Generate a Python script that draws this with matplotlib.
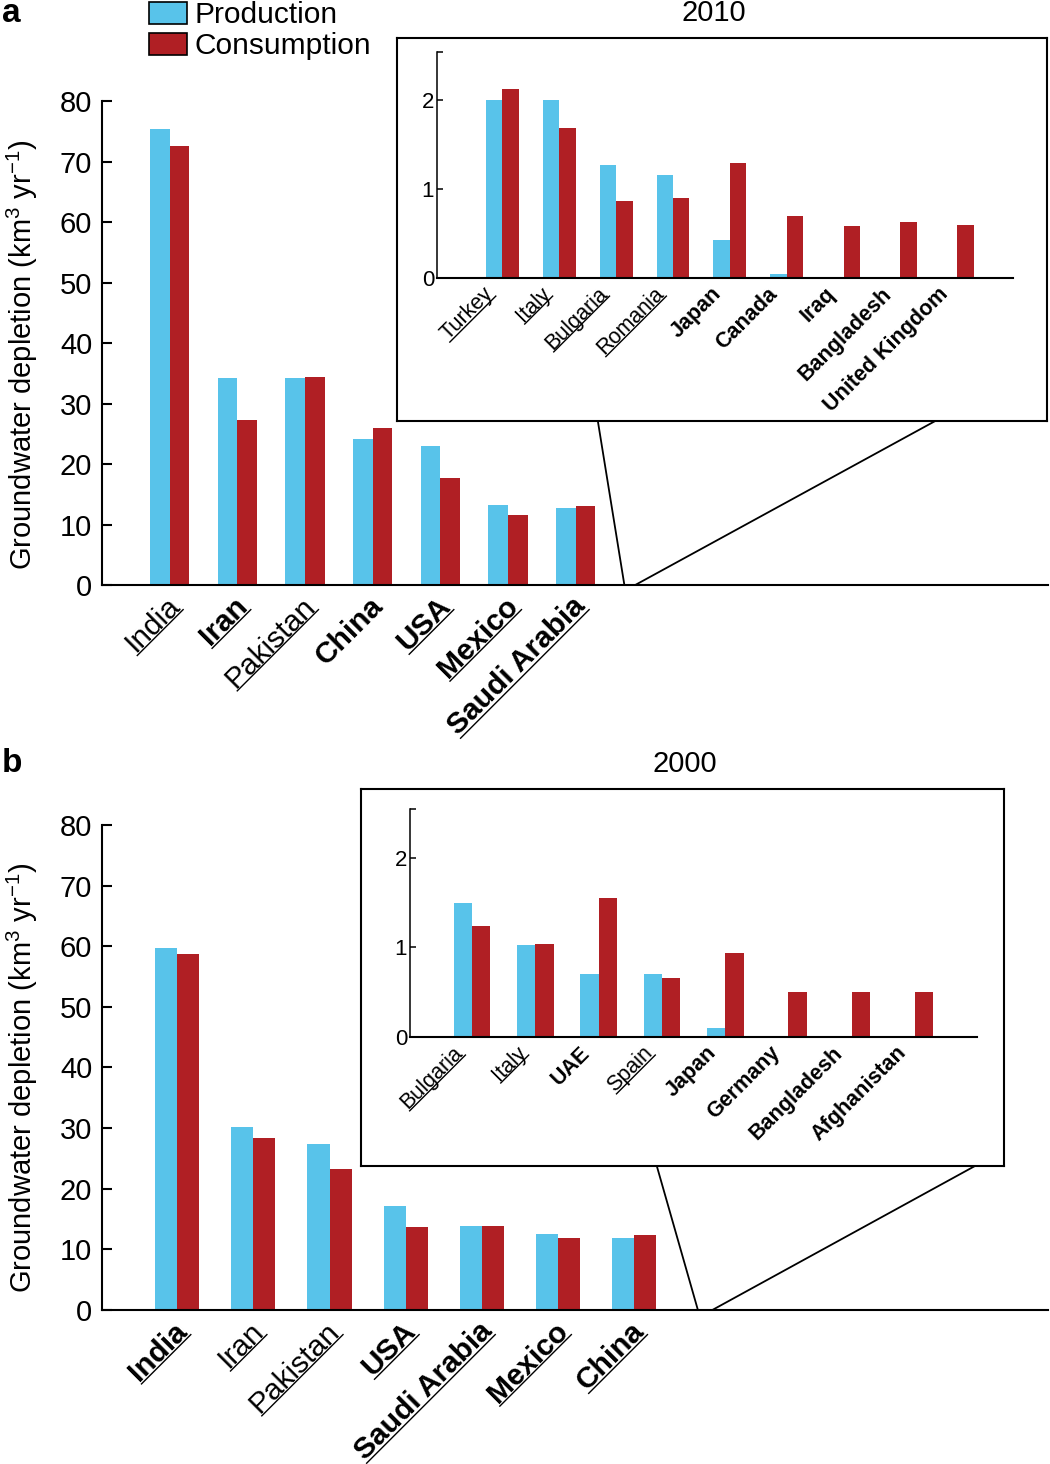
import numpy as np
import matplotlib
matplotlib.use('Agg')
import matplotlib.pyplot as plt
from matplotlib.patches import Patch, ConnectionPatch
from matplotlib.lines import Line2D
from matplotlib import transforms

# 2010, main countries
countries_2010 = ['India', 'Iran', 'Pakistan', 'China', 'USA', 'Mexico', 'Saudi Arabia']
prod_2010 = [75.3, 34.3, 34.2, 24.1, 22.9, 13.2, 12.8]
cons_2010 = [72.6, 27.2, 34.4, 26.0, 17.7, 11.6, 13.1]
bold_2010 = [False, True, False, True, True, True, True]
under_2010 = [True, True, True, False, True, True, True]

# 2010, inset
inset_countries_2010 = ['Turkey', 'Italy', 'Bulgaria', 'Romania', 'Japan', 'Canada',
                        'Iraq', 'Bangladesh', 'United Kingdom']
inset_prod_2010 = [2.01, 2.0, 1.27, 1.16, 0.42, 0.04, 0.0, 0.005, 0.005]
inset_cons_2010 = [2.13, 1.69, 0.86, 0.90, 1.29, 0.70, 0.585, 0.63, 0.60]
inset_bold_2010 = [False, False, False, False, True, True, True, True, True]
inset_under_2010 = [True, True, True, True, False, False, False, False, False]

# 2000, main countries
countries_2000 = ['India', 'Iran', 'Pakistan', 'USA', 'Saudi Arabia', 'Mexico', 'China']
prod_2000 = [59.7, 30.2, 27.3, 17.1, 13.8, 12.6, 11.85]
cons_2000 = [58.7, 28.3, 23.2, 13.7, 13.9, 11.8, 12.35]
bold_2000 = [True, False, False, True, True, True, True]
under_2000 = [True, True, True, True, True, True, True]

# 2000, inset
inset_countries_2000 = ['Bulgaria', 'Italy', 'UAE', 'Spain', 'Japan', 'Germany',
                        'Bangladesh', 'Afghanistan']
inset_prod_2000 = [1.50, 1.03, 0.70, 0.70, 0.10, 0.01, 0.0, 0.0]
inset_cons_2000 = [1.24, 1.04, 1.56, 0.66, 0.94, 0.50, 0.50, 0.50]
inset_bold_2000 = [False, False, True, False, True, True, True, True]
inset_under_2000 = [True, True, False, True, False, False, False, False]

BLUE = '#58C3EA'
RED = '#B01F24'

plt.rcParams['font.family'] = ['Liberation Sans', 'DejaVu Sans']
plt.rcParams['mathtext.fontset'] = 'custom'
plt.rcParams['mathtext.rm'] = 'Liberation Sans'
plt.rcParams['mathtext.it'] = 'Liberation Sans:italic'
plt.rcParams['mathtext.bf'] = 'Liberation Sans:bold'

fig = plt.figure(figsize=(10.5, 14.64), dpi=100)
to_underline = []


def bars(ax, prod, cons, width=0.29):
    x = np.arange(len(prod))
    ax.bar(x - width / 2, prod, width, color=BLUE, linewidth=0)
    ax.bar(x + width / 2, cons, width, color=RED, linewidth=0)
    return x


def labels(ax, x, names, bold, under, size, dx=0, dy=-5):
    tr = transforms.offset_copy(ax.get_xaxis_transform(), fig=fig, x=dx, y=dy, units='points')
    for xi, name, b, u in zip(x, names, bold, under):
        t = ax.text(xi, 0, name, transform=tr, rotation=45, rotation_mode='anchor',
                    ha='right', va='top', fontsize=size,
                    fontweight='bold' if b else 'normal')
        if u:
            to_underline.append(t)


def draw_underlines(renderer):
    for t in to_underline:
        prop = t.get_fontproperties()
        w, h, d = renderer.get_text_width_height_descent(t.get_text(), prop, ismath=False)
        _, lh, ld = renderer.get_text_width_height_descent('lp', prop, ismath=False)
        h, d = max(h, lh), max(d, ld)
        x0, y0 = t.get_transform().transform(t.get_position())
        a = np.deg2rad(t.get_rotation())
        ux, uy = np.cos(a), np.sin(a)
        vx, vy = -uy, ux
        off = -(h - d) - 0.1 * prop.get_size_in_points() * fig.dpi / 72
        xs = [x0 - w * ux + off * vx, x0 + off * vx]
        ys = [y0 - w * uy + off * vy, y0 + off * vy]
        pts = fig.transFigure.inverted().transform(np.column_stack([xs, ys]))
        fig.add_artist(Line2D(pts[:, 0], pts[:, 1], transform=fig.transFigure,
                              color='black', lw=1.0))


def main_panel(rect, xlim, names, prod, cons, bold, under, ylab_y):
    ax = fig.add_axes(rect)
    x = bars(ax, prod, cons)
    ax.set_xlim(*xlim)
    ax.set_ylim(0, 80)
    ax.set_yticks(range(0, 81, 10))
    ax.set_xticks([])
    ax.spines['top'].set_visible(False)
    ax.spines['right'].set_visible(False)
    ax.spines['left'].set_linewidth(1.5)
    ax.spines['bottom'].set_linewidth(1.5)
    ax.tick_params(axis='y', direction='in', length=7, width=1.5, labelsize=21, pad=7)
    ax.set_ylabel('Groundwater depletion (km$^3$ yr$^{-1}$)', fontsize=21)
    ax.yaxis.set_label_coords(-0.066, ylab_y)
    labels(ax, x, names, bold, under, 21.5, dx=-3, dy=-5)
    return ax


def inset_panel(box_rect, rect, xlim, title, title_x, names, prod, cons, bold, under):
    box = fig.add_axes(box_rect)
    box.set_xticks([])
    box.set_yticks([])
    for s in box.spines.values():
        s.set_linewidth(1.5)
    box.set_title(title, fontsize=21, pad=12, x=title_x)
    ax = fig.add_axes(rect)
    ax.patch.set_visible(False)
    x = bars(ax, prod, cons)
    ax.set_xlim(*xlim)
    ax.set_ylim(0, 2.55)
    ax.set_yticks([0, 1, 2, 2.55])
    ax.set_yticklabels(['0', '1', '2', ''])
    ax.set_xticks([])
    ax.spines['top'].set_visible(False)
    ax.spines['right'].set_visible(False)
    ax.spines['left'].set_linewidth(1.1)
    ax.spines['bottom'].set_linewidth(1.5)
    ax.tick_params(axis='y', direction='in', length=4, width=1.1, labelsize=16, pad=2)
    labels(ax, x, names, bold, under, 15.5, dx=-14, dy=-4)
    return box, ax


ax_a = main_panel([0.0971, 0.6004, 0.901, 0.3306], (-1.0, 12.98),
                  countries_2010, prod_2010, cons_2010, bold_2010, under_2010, 0.475)
box_a, in_a = inset_panel([0.3781, 0.7124, 0.619, 0.2616], [0.4162, 0.8103, 0.5486, 0.1544],
                          (-1.15, 8.98), '2010', 0.487, inset_countries_2010, inset_prod_2010,
                          inset_cons_2010, inset_bold_2010, inset_under_2010)

ax_b = main_panel([0.0971, 0.1052, 0.901, 0.3313], (-0.99, 11.44),
                  countries_2000, prod_2000, cons_2000, bold_2000, under_2000, 0.478)
box_b, in_b = inset_panel([0.3438, 0.2036, 0.6124, 0.2575], [0.3905, 0.2919, 0.54, 0.1553],
                          (-0.98, 7.98), '2000', 0.503, inset_countries_2000, inset_prod_2000,
                          inset_cons_2000, inset_bold_2000, inset_under_2000)

# zoom connector lines
for box, ax, ends in [(box_a, ax_a, [(0.309, 6.72), (0.828, 6.88)]),
                      (box_b, ax_b, [(0.46, 6.84), (0.955, 7.03)])]:
    for bx, ax_x in ends:
        con = ConnectionPatch(xyA=(bx, 0), coordsA=box.transAxes,
                              xyB=(ax_x, 0), coordsB=ax.transData,
                              color='black', lw=1.3)
        fig.add_artist(con)

fig.text(0.002, 1 - 22 / 1464, 'a', fontsize=24, fontweight='bold', va='baseline')
fig.text(0.002, 1 - 772 / 1464, 'b', fontsize=24, fontweight='bold', va='baseline')

handles = [Patch(facecolor=BLUE, edgecolor='black', linewidth=1.2),
           Patch(facecolor=RED, edgecolor='black', linewidth=1.2)]
fig.legend(handles, ['Production', 'Consumption'], loc='upper left',
           bbox_to_anchor=(0.142, 0.9992), frameon=False, fontsize=21.5,
           handlelength=1.27, handleheight=0.74, handletextpad=0.25,
           labelspacing=0.1, borderaxespad=0, borderpad=0)

fig.canvas.draw()
draw_underlines(fig.canvas.get_renderer())

fig.savefig('out.png', dpi=100)
